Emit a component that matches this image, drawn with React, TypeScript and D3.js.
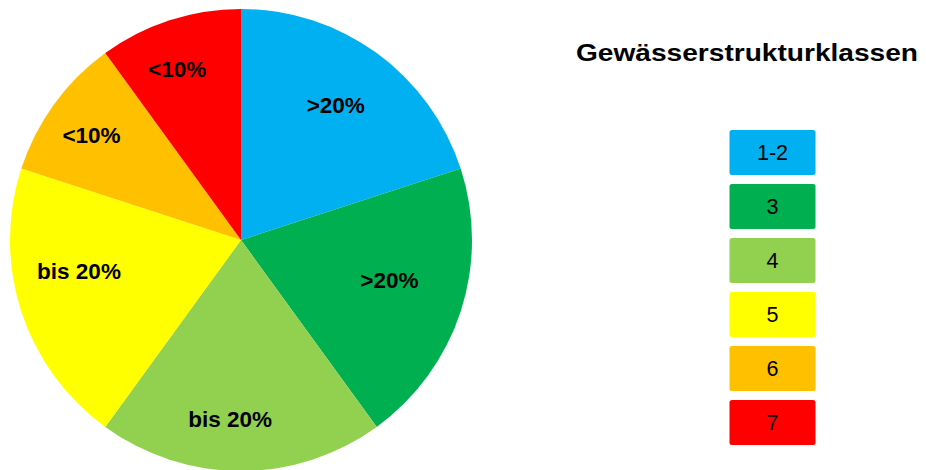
import React from "react";
import * as d3 from "d3";

const classes = ["1-2", "3", "4", "5", "6", "7"];
const shares = [20, 20, 20, 20, 10, 10];
const sliceLabels = [">20%", ">20%", "bis 20%", "bis 20%", "<10%", "<10%"];
const colors = ["#00B0F0", "#00B050", "#92D050", "#FFFF00", "#FFC000", "#FF0000"];
const legendTitle = "Gewässerstrukturklassen";

// label layout: angular nudge (degrees) and radial fraction for each slice label
const labelNudgeDeg = [-1, -3, 3.5, 7.2, -1, -2.5];
const labelRadFrac = [0.715, 0.665, 0.775, 0.714, 0.79, 0.79];

const W = 926;
const H = 470;
const cx = 241;
const cy = 240;
const R = 231;

export default function App() {
  const pie = d3.pie<number>().sort(null).value((d) => d);
  const arcs = pie(shares);
  const arc = d3.arc<d3.PieArcDatum<number>>().innerRadius(0).outerRadius(R);

  const legendY = d3
    .scaleBand<string>()
    .domain(classes)
    .range([130, 445])
    .paddingInner(9 / 54)
    .paddingOuter(0);

  return (
    <div style={{ position: "absolute", left: 0, top: 0 }}>
      <svg width={W} height={H} style={{ display: "block" }}>
        <rect x={0} y={0} width={W} height={H} fill="#ffffff" />
        <g transform={`translate(${cx},${cy})`}>
          {arcs.map((a, i) => (
            <path key={i} d={arc(a) || ""} fill={colors[i]} />
          ))}
          {arcs.map((a, i) => {
            const mid = (a.startAngle + a.endAngle) / 2 + (labelNudgeDeg[i] * Math.PI) / 180;
            const r = R * labelRadFrac[i];
            const x = Math.sin(mid) * r;
            const y = -Math.cos(mid) * r;
            return (
              <text
                key={i}
                x={x}
                y={y}
                dy="0.36em"
                textAnchor="middle"
                fontFamily="'Liberation Sans', Arial, sans-serif"
                fontWeight="bold"
                fontSize={22.5}
                fill="#000"
              >
                {sliceLabels[i]}
              </text>
            );
          })}
        </g>
        <text
          x={576}
          y={61}
          fontFamily="'Liberation Sans', Arial, sans-serif"
          fontWeight="bold"
          fontSize={23.5}
          textLength={342}
          lengthAdjust="spacingAndGlyphs"
          fill="#000"
        >
          {legendTitle}
        </text>
        {classes.map((c, i) => {
          const y = legendY(c) as number;
          const h = legendY.bandwidth();
          return (
            <g key={c}>
              <rect x={729.5} y={y} width={86} height={h} rx={2.5} ry={2.5} fill={colors[i]} />
              <text
                x={729.5 + 43}
                y={y + h / 2}
                dy="0.36em"
                textAnchor="middle"
                fontFamily="'Liberation Sans', Arial, sans-serif"
                fontSize={21.5}
                fill="#000"
              >
                {c}
              </text>
            </g>
          );
        })}
      </svg>
    </div>
  );
}
